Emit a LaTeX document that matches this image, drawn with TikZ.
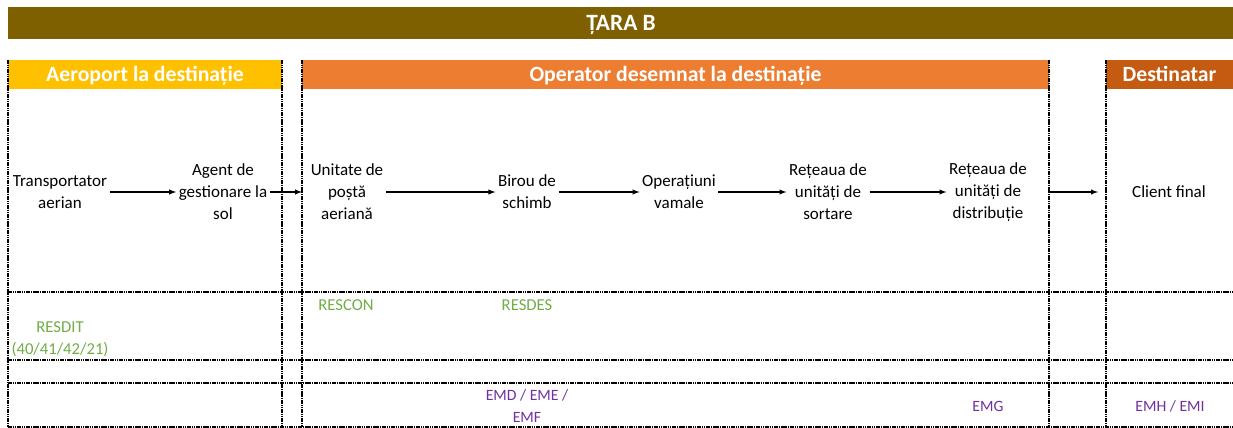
\documentclass[tikz,border=0pt]{standalone}
\usepackage{fontspec}
\setmainfont{Carlito}
\definecolor{tarabrown}{HTML}{7F6000}
\definecolor{airyellow}{HTML}{FFC000}
\definecolor{oporange}{HTML}{ED7D31}
\definecolor{destorange}{HTML}{C55A11}
\definecolor{msggreen}{HTML}{70AD47}
\definecolor{msgpurple}{HTML}{7030A0}
\begin{document}
\begin{tikzpicture}[x=0.75pt, y=-0.75pt]
\tikzset{ >=latex, inner sep=2pt, outer sep=0pt,
  cell/.style={black, line width=1.3pt, dash pattern=on 1.2pt off 0.5pt},
  head/.style={text=white, inner sep=0pt, anchor=base, font=\bfseries\fontsize{16.3}{19}\selectfont},
  proc/.style={align=center, font=\fontsize{12.75}{16.5}\selectfont},
  resp/.style={align=center, text=msggreen, font=\fontsize{12.5}{16.5}\selectfont},
  emsg/.style={align=center, text=msgpurple, font=\fontsize{11.8}{16.5}\selectfont},
  flow/.style={->, line width=0.8pt},
}
\useasboundingbox (0,0) rectangle (1233,428);
%\draw [lightgray, dashed](0,0) grid[step=50] (1233,428);

\fill [tarabrown]  (8,7)    rectangle (1233,39);
\fill [airyellow]  (8,60)   rectangle (282,89);
\fill [oporange]   (302,60) rectangle (1049,89);
\fill [destorange] (1106,60) rectangle (1233,89);

\foreach \x in {8,282,302,1049,1106}
  \draw [cell] (\x,60) -- (\x,427);
\foreach \y in {292,360,383,427}
  \draw [cell] (8,\y) -- (1233,\y);

\node [head, font=\bfseries\fontsize{17.5}{20}\selectfont] (TB) at (621,31) {ȚARA B};
\node [head] (AD) at (145,82)   {Aeroport la destinație};
\node [head] (OD) at (675.5,82) {Operator desemnat la destinație};
\node [head] (DS) at (1169.5,82) {Destinatar};

\node [proc] (TA) at (60,192)  {Transportator\\aerian};
\node [proc] (AG) at (223,192) {Agent de\\gestionare la\\sol};
\node [proc] (UP) at (347,192) {Unitate de\\poștă\\aeriană};
\node [proc] (BS) at (527,192) {Birou de\\schimb};
\node [proc] (OV) at (679,192) {Operațiuni\\vamale};
\node [proc] (RS) at (828,192) {Rețeaua de\\unități de\\sortare};
\node [proc] (RD) at (988,192) {Rețeaua de\\unități de\\distribuție};
\node [proc, minimum width=106.5pt] (CF) at (1169,192) {Client final};

\coordinate (OL) at (302,192);
\coordinate (OR) at (1049,192);

\draw [flow] (TA) -- (AG);
\draw [flow] (AG) -- (OL);
\draw [flow] (UP) -- (BS);
\draw [flow] (BS) -- (OV);
\draw [flow] (OV) -- (RS);
\draw [flow] (RS) -- (RD);
\draw [flow] (OR) -- (CF);

\node [resp] (RDT) at (60,339)  {RESDIT\\(40/41/42/21)};
\node [resp] (RCN) at (346,305) {RESCON};
\node [resp] (RDS) at (527,305) {RESDES};

\node [emsg] (EMDF) at (527,406.5) {EMD / EME /\\EMF};
\node [emsg] (EMG)  at (988,406)   {EMG};
\node [emsg] (EMHI) at (1170,406)  {EMH / EMI};

\end{tikzpicture}
\end{document}
